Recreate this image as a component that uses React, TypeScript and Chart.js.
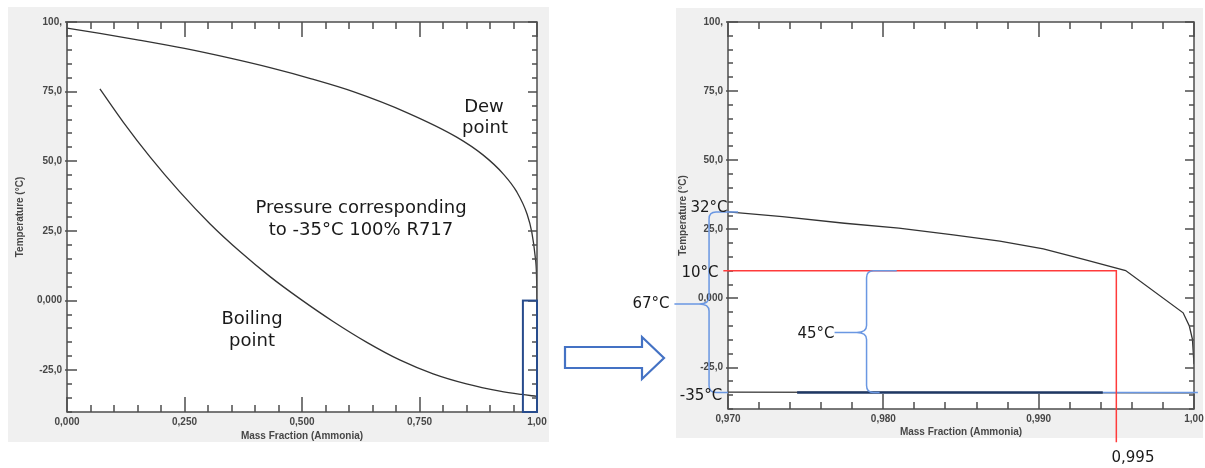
import React, { useEffect, useRef } from 'react';
import { Chart, registerables } from 'chart.js';

Chart.register(...registerables);

// ---------------- data ----------------
// Left chart: full range of mass fraction
const leftDewX = [0, 0.07, 0.15, 0.25, 0.347, 0.432, 0.52, 0.609, 0.723, 0.83, 0.885, 0.928, 0.957, 0.979, 0.989, 0.996, 0.999, 1.0];
const leftDewT = [97.8, 95.9, 93.6, 90.5, 87.0, 83.6, 79.6, 75.0, 67.5, 58.6, 52.3, 45.5, 39.0, 31.0, 24.5, 16, 9, 0];
const leftBoilX = [0.07, 0.12, 0.177, 0.24, 0.304, 0.368, 0.432, 0.496, 0.567, 0.638, 0.709, 0.779, 0.85, 0.921, 0.967, 1.0];
const leftBoilT = [76, 64, 51.5, 39.0, 27.6, 17.6, 8.6, 0.6, -7.6, -15.0, -21.4, -26.3, -29.9, -32.5, -33.7, -34.4];

// Right chart: zoom 0.970 .. 1.00
const rightDewX = [0.97, 0.9735, 0.9775, 0.981, 0.9845, 0.9875, 0.9903, 0.9929, 0.9956, 0.9993, 0.9997, 0.9999, 1.0];
const rightDewT = [31.3, 29.6, 27.2, 25.4, 23.0, 20.7, 17.9, 14.1, 10.1, -5.2, -10, -14.8, -23.8];
const rightBoilX = [0.97, 0.98, 0.99, 1.0];
const rightBoilT = [-33.9, -34.0, -34.1, -34.2];

// ticks
const yTickValues = [-25, 0, 25, 50, 75, 100];
const yTickLabels = ['-25,0', '0,000', '25,0', '50,0', '75,0', '100,'];
const leftXTickValues = [0, 0.25, 0.5, 0.75, 1.0];
const leftXTickLabels = ['0,000', '0,250', '0,500', '0,750', '1,00'];
const rightXTickValues = [0.97, 0.98, 0.99, 1.0];
const rightXTickLabels = ['0,970', '0,980', '0,990', '1,00'];

// annotation values
const zoomBoxX = [0.97, 1.0];
const zoomBoxT = [-40, 0];
const suctionTemp = -34;
const highlightX = [0.97445, 0.99413];
const suctionLineEndX = 1.00025;
const condTemp = 10;
const condFraction = 0.995;
const redLineStartX = 0.9697;
const redLineBottomT = -52;
const dewTopTemp = 31.3;
// big brace (67 °C glide)
const bigBrace = { x: 0.96878, top: dewTopTemp, bottom: suctionTemp, tip: -2, tipX: 0.96655, topEndX: 0.97065, botEndX: 0.9700 };
// small brace (45 °C)
const smallBrace = { x: 0.97892, top: condTemp, bottom: suctionTemp, tip: -12.3, tipX: 0.97686, topEndX: 0.98086, botEndX: 0.97976 };

const FONT = '"DejaVu Sans", Verdana, sans-serif';
const AXIS_FONT = '"Liberation Sans", Arial, sans-serif';
const AXIS_COLOR = '#4d4d4d';
const LABEL_COLOR = '#474747';

function steps(min: number, max: number, step: number) {
  const n = Math.round((max - min) / step);
  return Array.from({ length: n + 1 }, (_, i) => min + i * step);
}

function toPoints(xs: number[], ys: number[]) {
  return xs.map((x, i) => ({ x, y: ys[i] }));
}

function labelFor(values: number[], labels: string[], v: number) {
  const i = values.findIndex((m) => Math.abs(m - v) < 1e-6);
  return i >= 0 ? labels[i] : '';
}

function drawFrame(chart: any, xMajors: number[], xStep: number, yMajors: number[], yStep: number) {
  const { ctx, chartArea: a, scales } = chart;
  const xs = scales.x;
  const ys = scales.y;
  ctx.save();
  ctx.strokeStyle = AXIS_COLOR;
  ctx.lineWidth = 1.5;
  ctx.beginPath();
  for (const v of steps(xs.min, xs.max, xStep)) {
    const px = Math.round(xs.getPixelForValue(v));
    const major = xMajors.some((m) => Math.abs(m - v) < xStep / 10);
    const len = major ? 15 : 7;
    ctx.moveTo(px, a.bottom);
    ctx.lineTo(px, a.bottom - len);
    ctx.moveTo(px, a.top);
    ctx.lineTo(px, a.top + len);
  }
  for (const v of steps(ys.min, ys.max, yStep)) {
    const py = Math.round(ys.getPixelForValue(v));
    const major = yMajors.some((m) => Math.abs(m - v) < yStep / 10);
    ctx.moveTo(a.left - (major ? 2 : 0), py);
    ctx.lineTo(a.left + (major ? 10 : 5), py);
    ctx.moveTo(a.right, py);
    ctx.lineTo(a.right - (major ? 9 : 5), py);
  }
  ctx.stroke();
  ctx.strokeRect(a.left, a.top, a.right - a.left, a.bottom - a.top);
  ctx.restore();
}

const whiteArea = {
  id: 'whiteArea',
  beforeDraw(chart: any) {
    const { ctx, chartArea: a } = chart;
    ctx.save();
    ctx.fillStyle = '#ffffff';
    ctx.fillRect(a.left, a.top, a.right - a.left, a.bottom - a.top);
    ctx.restore();
  },
};

function drawBrace(ctx: any, X: (v: number) => number, Y: (v: number) => number, b: any, r: number) {
  const xv = X(b.x);
  const yt = Y(b.top);
  const yb = Y(b.bottom);
  const yp = Y(b.tip);
  ctx.beginPath();
  ctx.moveTo(X(b.topEndX), yt);
  ctx.lineTo(xv + r, yt);
  ctx.quadraticCurveTo(xv, yt, xv, yt + r);
  ctx.lineTo(xv, yp - r);
  ctx.quadraticCurveTo(xv, yp, xv - r * 1.4, yp);
  ctx.lineTo(X(b.tipX), yp);
  ctx.moveTo(xv - r * 1.4, yp);
  ctx.quadraticCurveTo(xv, yp, xv, yp + r);
  ctx.lineTo(xv, yb - r);
  ctx.quadraticCurveTo(xv, yb, xv + r, yb);
  ctx.lineTo(X(b.botEndX), yb);
  ctx.stroke();
}

function axisFont() {
  return { family: AXIS_FONT, size: 10, weight: 'bold' as const, lineHeight: 1.2 };
}

function makeScales(opts: any) {
  return {
    x: {
      type: 'linear',
      min: opts.xMin,
      max: opts.xMax,
      grid: { display: false, drawTicks: false },
      border: { display: false },
      afterBuildTicks: (s: any) => {
        s.ticks = opts.xTicks.map((v: number) => ({ value: v }));
      },
      afterFit: (s: any) => {
        s.height = opts.xHeight;
      },
      ticks: {
        autoSkip: false,
        maxRotation: 0,
        minRotation: 0,
        padding: 4,
        color: LABEL_COLOR,
        font: axisFont(),
        callback: (v: number) => labelFor(opts.xTicks, opts.xLabels, v),
      },
      title: {
        display: true,
        text: 'Mass Fraction (Ammonia)',
        color: LABEL_COLOR,
        font: axisFont(),
        padding: { top: 0, bottom: opts.xTitlePad },
      },
    },
    y: {
      type: 'linear',
      min: -40,
      max: 100,
      grid: { display: false, drawTicks: false },
      border: { display: false },
      afterBuildTicks: (s: any) => {
        s.ticks = yTickValues.map((v) => ({ value: v }));
      },
      afterFit: (s: any) => {
        s.width = opts.yWidth;
      },
      ticks: {
        autoSkip: false,
        padding: 5,
        color: LABEL_COLOR,
        font: axisFont(),
        callback: (v: number) => labelFor(yTickValues, yTickLabels, v),
      },
      title: {
        display: true,
        text: 'Temperature (°C)',
        color: LABEL_COLOR,
        font: axisFont(),
        padding: { top: opts.yTitlePad, bottom: 0 },
      },
    },
  };
}

function lineDataset(label: string, xs: number[], ys: number[], smooth: boolean) {
  return {
    label,
    data: toPoints(xs, ys),
    showLine: true,
    borderColor: '#333333',
    borderWidth: 1.3,
    pointRadius: 0,
    cubicInterpolationMode: smooth ? 'monotone' : 'default',
    tension: 0,
  };
}

function leftConfig(): any {
  return {
    type: 'scatter',
    data: {
      datasets: [
        lineDataset('Dew point', leftDewX, leftDewT, true),
        lineDataset('Boiling point', leftBoilX, leftBoilT, true),
      ],
    },
    options: {
      animation: false,
      responsive: false,
      maintainAspectRatio: false,
      devicePixelRatio: 1,
      layout: { padding: { left: 8, top: 22, right: 23, bottom: 26 } },
      plugins: { legend: { display: false }, tooltip: { enabled: false } },
      scales: makeScales({
        xMin: 0,
        xMax: 1,
        xTicks: leftXTickValues,
        xLabels: leftXTickLabels,
        xHeight: 30,
        yWidth: 59,
        xTitlePad: 0,
        yTitlePad: 6,
      }),
    },
    plugins: [
      whiteArea,
      {
        id: 'leftFrame',
        afterDraw(chart: any) {
          drawFrame(chart, leftXTickValues, 0.05, yTickValues, 5);
          const { ctx, scales } = chart;
          const X = (v: number) => scales.x.getPixelForValue(v);
          const Y = (v: number) => scales.y.getPixelForValue(v);
          ctx.save();
          ctx.strokeStyle = '#274b8c';
          ctx.lineWidth = 2;
          ctx.strokeRect(X(zoomBoxX[0]), Y(zoomBoxT[1]), X(zoomBoxX[1]) - X(zoomBoxX[0]), Y(zoomBoxT[0]) - Y(zoomBoxT[1]));
          ctx.restore();
        },
      },
    ],
  };
}

function rightConfig(): any {
  return {
    type: 'scatter',
    data: {
      datasets: [
        lineDataset('Dew point', rightDewX, rightDewT, false),
        lineDataset('Boiling point', rightBoilX, rightBoilT, false),
      ],
    },
    options: {
      animation: false,
      responsive: false,
      maintainAspectRatio: false,
      devicePixelRatio: 1,
      layout: { padding: { left: 116, top: 22, right: 21, bottom: 30 } },
      plugins: { legend: { display: false }, tooltip: { enabled: false } },
      scales: makeScales({
        xMin: 0.97,
        xMax: 1.0,
        xTicks: rightXTickValues,
        xLabels: rightXTickLabels,
        xHeight: 29,
        yWidth: 52,
        xTitlePad: 0,
        yTitlePad: 1,
      }),
    },
    plugins: [
      whiteArea,
      {
        id: 'rightFrame',
        afterDraw(chart: any) {
          drawFrame(chart, rightXTickValues, 0.002, yTickValues, 5);
          const { ctx, scales } = chart;
          const X = (v: number) => scales.x.getPixelForValue(v);
          const Y = (v: number) => scales.y.getPixelForValue(v);
          ctx.save();
          ctx.lineCap = 'butt';
          // -35 °C suction line
          ctx.strokeStyle = '#1f3864';
          ctx.lineWidth = 2.5;
          ctx.beginPath();
          ctx.moveTo(X(highlightX[0]), Y(suctionTemp));
          ctx.lineTo(X(highlightX[1]), Y(suctionTemp));
          ctx.stroke();
          ctx.strokeStyle = '#6a97e2';
          ctx.lineWidth = 1.5;
          ctx.beginPath();
          ctx.moveTo(X(highlightX[1]), Y(suctionTemp));
          ctx.lineTo(X(suctionLineEndX), Y(suctionTemp));
          ctx.stroke();
          // red lines
          ctx.strokeStyle = '#ff3b3b';
          ctx.lineWidth = 1.5;
          ctx.beginPath();
          ctx.moveTo(X(redLineStartX), Y(condTemp));
          ctx.lineTo(X(condFraction), Y(condTemp));
          ctx.lineTo(X(condFraction), Y(redLineBottomT));
          ctx.stroke();
          // braces
          ctx.strokeStyle = '#6a97e2';
          ctx.lineWidth = 1.5;
          drawBrace(ctx, X, Y, bigBrace, 7);
          drawBrace(ctx, X, Y, smallBrace, 7);
          ctx.restore();
        },
      },
    ],
  };
}

function ChartCanvas({ config, left, top, width, height }: any) {
  const ref = useRef<HTMLCanvasElement>(null);
  useEffect(() => {
    const chart = new Chart(ref.current as HTMLCanvasElement, config());
    return () => chart.destroy();
  }, []);
  return (
    <canvas
      ref={ref}
      width={width}
      height={height}
      style={{ position: 'absolute', left, top, width, height }}
    />
  );
}

function Note({ text, cx, baseline, size }: { text: string; cx: number; baseline: number; size: number }) {
  const lh = size * 1.164;
  return (
    <div
      style={{
        position: 'absolute',
        left: cx - 150,
        width: 300,
        top: baseline - size * 0.928,
        textAlign: 'center',
        fontFamily: FONT,
        fontSize: size,
        lineHeight: `${lh}px`,
        color: '#1a1a1a',
        whiteSpace: 'nowrap',
      }}
    >
      {text}
    </div>
  );
}

export default function App() {
  return (
    <div style={{ position: 'absolute', left: 0, top: 0, width: 1205, height: 468, background: '#ffffff', overflow: 'hidden' }}>
      <div style={{ position: 'absolute', left: 8, top: 7, width: 541, height: 435, background: '#f0f0f0' }} />
      <div style={{ position: 'absolute', left: 676, top: 8, width: 527, height: 430, background: '#f0f0f0' }} />
      <ChartCanvas config={leftConfig} left={0} top={0} width={560} height={468} />
      <ChartCanvas config={rightConfig} left={560} top={0} width={655} height={468} />
      <svg width={1205} height={468} style={{ position: 'absolute', left: 0, top: 0 }}>
        <polygon
          points="565,347 642,347 642,337 664,358 642,379 642,368 565,368"
          fill="#ffffff"
          stroke="#4472c4"
          strokeWidth={2.2}
        />
      </svg>
      <Note text="Dew" cx={484} baseline={113} size={18} />
      <Note text="point" cx={485} baseline={134} size={18} />
      <Note text="Pressure corresponding" cx={361} baseline={214} size={18} />
      <Note text="to -35°C 100% R717" cx={361} baseline={236} size={18} />
      <Note text="Boiling" cx={252} baseline={325} size={18} />
      <Note text="point" cx={252} baseline={347} size={18} />
      <Note text="32°C" cx={709} baseline={213} size={15} />
      <Note text="10°C" cx={700} baseline={278} size={15} />
      <Note text="67°C" cx={651} baseline={309} size={15} />
      <Note text="45°C" cx={816} baseline={339} size={15} />
      <Note text="-35°C" cx={701} baseline={401} size={15} />
      <Note text="0,995" cx={1133} baseline={463} size={15} />
    </div>
  );
}
